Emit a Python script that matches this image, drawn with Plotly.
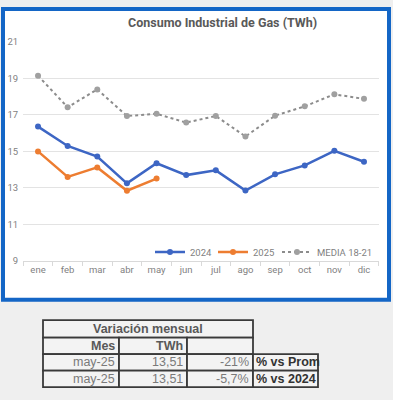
import plotly.graph_objects as go

W, H = 393, 400

months = ["ene", "feb", "mar", "abr", "may", "jun", "jul", "ago", "sep", "oct", "nov", "dic"]
s2024 = [16.36, 15.30, 14.72, 13.25, 14.35, 13.70, 13.96, 12.85, 13.74, 14.23, 15.03, 14.43]
s2025 = [15.00, 13.60, 14.12, 12.84, 13.51]
media = [19.15, 17.42, 18.40, 16.94, 17.06, 16.58, 16.94, 15.82, 16.96, 17.47, 18.13, 17.88]

table_rows = [
    ["may-25", "13,51", "-21%", "% vs Prom"],
    ["may-25", "13,51", "-5,7%", "% vs 2024"],
]


def px(x):
    return x / W


def py(y):
    return 1 - y / H


fig = go.Figure()
fig.add_trace(go.Scatter(x=months, y=s2024, name="2024", mode="lines+markers",
                         line=dict(color="#3d66c4", width=2.5),
                         marker=dict(size=6, color="#3d66c4"), legend="legend"))
fig.add_trace(go.Scatter(x=months[:len(s2025)], y=s2025, name="2025", mode="lines+markers",
                         line=dict(color="#ed7d31", width=2.5),
                         marker=dict(size=6, color="#ed7d31"), legend="legend2"))
fig.add_trace(go.Scatter(x=months, y=media, name="MEDIA 18-21", mode="lines+markers",
                         line=dict(color="#8c8c8c", width=2, dash="dot"),
                         marker=dict(size=6, color="#a0a0a0"), legend="legend3"))

shapes = []
# chart frame
shapes.append(dict(type="rect", xref="paper", yref="paper",
                   x0=px(3), x1=px(389), y0=py(302), y1=py(3),
                   line=dict(color="#1466c6", width=4), fillcolor="white", layer="below"))

# table
border = dict(color="#3a3a3a", width=1.8)
cols = [43, 119, 187, 253, 318]
rows = [323, 341, 358, 375, 392]


def rect(x0, x1, y0, y1):
    shapes.append(dict(type="rect", xref="paper", yref="paper",
                       x0=px(x0), x1=px(x1), y0=py(y1), y1=py(y0),
                       line=border, fillcolor="#f3f3f3", layer="above"))


rect(cols[0], cols[3], rows[0], rows[1])
for c in range(3):
    rect(cols[c], cols[c + 1], rows[1], rows[2])
for r in range(2, 4):
    for c in range(4):
        rect(cols[c], cols[c + 1], rows[r], rows[r + 1])

annotations = []
annotations.append(dict(text="<b>Consumo Industrial de Gas (TWh)</b>", xref="paper", yref="paper",
                        x=px(222), y=py(17), showarrow=False, xanchor="center", yanchor="middle",
                        font=dict(family="Roboto", size=12.5, color="#595959")))

tf = "Liberation Sans"
annotations.append(dict(text="<b>Variación mensual</b>", xref="paper", yref="paper",
                        x=px((cols[0] + cols[3]) / 2), y=py((rows[0] + rows[1]) / 2),
                        showarrow=False, xanchor="center", yanchor="middle",
                        font=dict(family=tf, size=12.5, color="#595959")))
for txt, c in [("<b>Mes</b>", 1), ("<b>TWh</b>", 2)]:
    annotations.append(dict(text=txt, xref="paper", yref="paper",
                            x=px(cols[c] - 2), y=py((rows[1] + rows[2]) / 2),
                            showarrow=False, xanchor="right", yanchor="middle",
                            font=dict(family=tf, size=12.5, color="#595959")))
for r, row in enumerate(table_rows):
    yc = py((rows[r + 2] + rows[r + 3]) / 2)
    for c in range(3):
        annotations.append(dict(text=row[c], xref="paper", yref="paper",
                                x=px(cols[c + 1] - 2), y=yc, showarrow=False,
                                xanchor="right", yanchor="middle",
                                font=dict(family=tf, size=12.5, color="#7a7a7a")))
    annotations.append(dict(text="<b>" + row[3] + "</b>", xref="paper", yref="paper",
                            x=px(cols[3] + 1), y=yc, showarrow=False,
                            xanchor="left", yanchor="middle",
                            font=dict(family=tf, size=12.5, color="#333333")))


def leg(xpix):
    return dict(orientation="h", x=px(xpix), y=py(253), xanchor="left", yanchor="middle",
                bgcolor="rgba(0,0,0,0)", font=dict(size=9.5, color="#7f7f7f"),
                itemwidth=30)


fig.update_layout(
    width=W, height=H,
    margin=dict(l=0, r=0, t=0, b=0),
    paper_bgcolor="#efefef",
    plot_bgcolor="rgba(0,0,0,0)",
    font=dict(family="Roboto", color="#7f7f7f", size=9),
    showlegend=True,
    legend=leg(150),
    legend2=leg(213),
    legend3=leg(277),
    xaxis=dict(domain=[px(23.2), px(378.8)], type="category", range=[-0.5, 11.5],
               showgrid=False, showline=True, linecolor="#d9d9d9", linewidth=1,
               ticks="outside", tickson="boundaries", ticklen=4, tickcolor="#d9d9d9",
               tickfont=dict(size=9.5, color="#7f7f7f"), fixedrange=True),
    yaxis=dict(domain=[py(262), py(37)], range=[9, 21], dtick=2, tick0=9,
               showgrid=True, gridcolor="#e3e3e3", gridwidth=1, zeroline=False,
               showline=False, tickfont=dict(size=9.5, color="#7f7f7f"), ticklabelstandoff=4),
    shapes=shapes,
    annotations=annotations,
)

fig.write_html("out.html", config={"displayModeBar": False},
               post_script="document.body.style.margin='0';document.body.style.overflow='hidden';")
